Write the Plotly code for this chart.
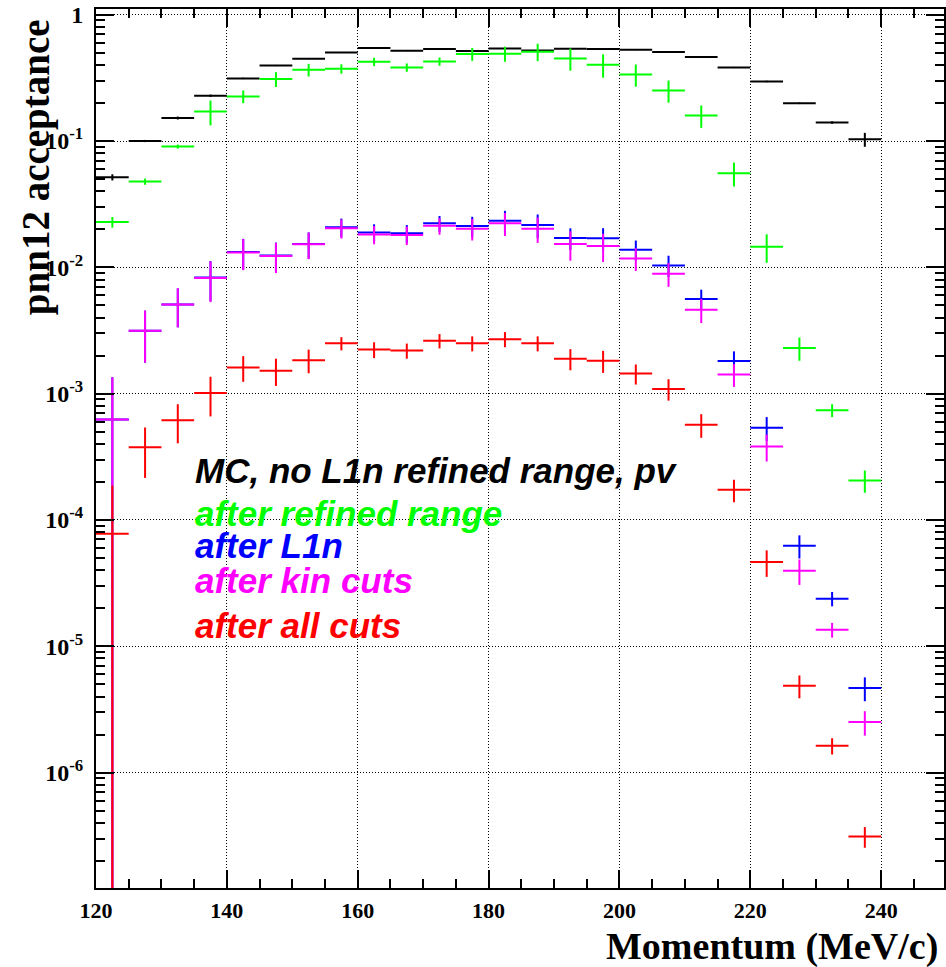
import plotly.graph_objects as go

# bin centres (MeV/c), 5 MeV wide bins
momentum = [122.5, 127.5, 132.5, 137.5, 142.5, 147.5, 152.5, 157.5, 162.5, 167.5,
            172.5, 177.5, 182.5, 187.5, 192.5, 197.5, 202.5, 207.5, 212.5, 217.5,
            222.5, 227.5, 232.5, 237.5]
half_bin = [2.5] * len(momentum)

mc_nocut = [0.0516, 0.100, 0.152, 0.228, 0.313, 0.396, 0.448, 0.502, 0.544, 0.518,
            0.534, 0.515, 0.541, 0.521, 0.537, 0.534, 0.528, 0.506, 0.462, 0.382,
            0.296, 0.199, 0.140, 0.103]
mc_nocut_err = [0.0029, 0.002, 0.004, 0.005, 0.004, 0.004, 0.004, 0.004, 0.004, 0.004,
                0.004, 0.004, 0.004, 0.004, 0.004, 0.004, 0.004, 0.004, 0.004, 0.004,
                0.004, 0.003, 0.003, 0.013]

refined = [0.0228, 0.0477, 0.0903, 0.171, 0.225, 0.309, 0.366, 0.373, 0.424, 0.382,
           0.426, 0.488, 0.491, 0.509, 0.450, 0.401, 0.336, 0.251, 0.159, 0.0555,
           0.01455, 0.0023, 0.000738, 0.000205]
refined_err = [0.0022, 0.0027, 0.0033, 0.038, 0.026, 0.042, 0.042, 0.032, 0.032, 0.029,
               0.032, 0.057, 0.067, 0.080, 0.090, 0.084, 0.067, 0.050, 0.032, 0.0119,
               0.0037, 0.00048, 0.000086, 0.000041]

l1n = [0.000625, 0.00315, 0.00508, 0.0083, 0.0132, 0.0124, 0.0153, 0.0208, 0.0189, 0.0186,
       0.0223, 0.0212, 0.0234, 0.0216, 0.01705, 0.0170, 0.01378, 0.01035, 0.00561, 0.00181,
       0.000537, 6.25e-5, 2.38e-5, 4.67e-6]
l1n_err = [0.00072, 0.00139, 0.00173, 0.0029, 0.0036, 0.0033, 0.0036, 0.0035, 0.0030, 0.0030,
           0.0032, 0.0039, 0.0046, 0.0046, 0.0033, 0.0034, 0.0025, 0.0020, 0.00104, 0.00035,
           0.000115, 1.3e-5, 3.1e-6, 1.0e-6]

kin = [0.000625, 0.00315, 0.00508, 0.00822, 0.0131, 0.0123, 0.0152, 0.0204, 0.0182, 0.0180,
       0.0213, 0.0202, 0.0223, 0.0202, 0.01528, 0.01472, 0.01175, 0.0089, 0.00462, 0.00142,
       0.000382, 3.96e-5, 1.35e-5, 2.51e-6]
kin_err = [0.00072, 0.00139, 0.00173, 0.00292, 0.0036, 0.0033, 0.0036, 0.0035, 0.0030, 0.0030,
           0.0032, 0.0039, 0.0046, 0.0046, 0.0040, 0.0037, 0.0024, 0.0019, 0.0010, 0.00029,
           9.2e-5, 9.0e-6, 1.8e-6, 5.5e-7]

allcuts = [7.76e-5, 0.000377, 0.000614, 0.00101, 0.00161, 0.00152, 0.00184, 0.00250, 0.00223, 0.00219,
           0.00262, 0.00250, 0.00270, 0.00250, 0.00189, 0.00182, 0.00144, 0.00109, 0.000567, 0.000173,
           4.64e-5, 4.87e-6, 1.63e-6, 3.12e-7]
allcuts_err = [0.00011, 0.000162, 0.00021, 0.00035, 0.00037, 0.00037, 0.00039, 0.00030, 0.00032, 0.00030,
               0.00034, 0.00034, 0.00037, 0.00034, 0.00036, 0.00036, 0.00026, 0.00021, 0.00012, 3.5e-5,
               1.1e-5, 1.0e-6, 2.4e-7, 5.8e-8]

series = [
    ("MC, no L1n refined range, pv", mc_nocut, mc_nocut_err, "#000000"),
    ("after refined range", refined, refined_err, "#00ff00"),
    ("after L1n", l1n, l1n_err, "#0000ff"),
    ("after kin cuts", kin, kin_err, "#ff00ff"),
    ("after all cuts", allcuts, allcuts_err, "#ff0000"),
]
label_baselines = [481.7, 525, 556.7, 591.7, 636.7]  # pixel rows of legend text

W, H = 946, 967
L, R, T, B = 96, 0, 9, 79
PW, PH = W - L - R, H - T - B

fig = go.Figure()
for name, vals, errs, col in series:
    fig.add_trace(go.Scatter(
        x=momentum, y=vals, mode="markers", name=name,
        marker=dict(size=2, color=col, opacity=0),
        error_x=dict(type="data", array=half_bin, symmetric=True, color=col, thickness=2, width=0),
        error_y=dict(type="data", array=errs, symmetric=True, color=col, thickness=2, width=0),
        showlegend=False, hoverinfo="skip",
    ))

# legend-like texts
for (name, vals, errs, col), base in zip(series, label_baselines):
    fs = 35
    cy = base - 0.33 * fs
    fig.add_annotation(
        x=(194 - L) / PW, y=(H - B - cy) / PH, xref="paper", yref="paper",
        xanchor="left", yanchor="middle", showarrow=False,
        text=f"<b><i>{name}</i></b>", borderpad=0,
        font=dict(family="Liberation Sans", size=fs, color=col),
    )

# axis titles
fig.add_annotation(
    x=(941 - L) / PW, y=(H - B - 946) / PH, xref="paper", yref="paper",
    xanchor="right", yanchor="middle", showarrow=False,
    text="<b>Momentum (MeV/c)</b>", borderpad=0,
    font=dict(family="Liberation Serif", size=38, color="black"),
)
fig.add_annotation(
    x=(36 - L) / PW, y=(H - B - 18) / PH, xref="paper", yref="paper",
    xanchor="center", yanchor="top", showarrow=False, textangle=-90,
    text="<b>pnn12 acceptance</b>", borderpad=0,
    font=dict(family="Liberation Serif", size=39, color="black"),
)

yt_vals = [1e-6, 1e-5, 1e-4, 1e-3, 1e-2, 1e-1, 1]
yt_text = ["10<sup>-6</sup>", "10<sup>-5</sup>", "10<sup>-4</sup>", "10<sup>-3</sup>",
           "10<sup>-2</sup>", "10<sup>-1</sup>", "1"]
y_minor = [m * 10.0 ** e for e in range(-7, 0) for m in range(2, 10)]
xt_vals = [120, 140, 160, 180, 200, 220, 240]

xtickfont = dict(family="Liberation Serif", size=22, color="black", weight="bold")
ytickfont = dict(family="Liberation Serif", size=24, color="black", weight="bold")
griddash = "1px,2px"

fig.update_layout(
    width=W, height=H, autosize=False,
    margin=dict(l=L, r=R, t=T, b=B),
    paper_bgcolor="white", plot_bgcolor="white",
    xaxis=dict(
        range=[120, 249.6], tickmode="array", tickvals=xt_vals,
        ticks="inside", ticklen=18, tickwidth=1.5, tickcolor="black",
        showline=True, linewidth=2, linecolor="black", mirror="ticks",
        showgrid=True, gridcolor="black", gridwidth=1, griddash=griddash,
        zeroline=False, tickfont=xtickfont, ticklabelstandoff=2,
        minor=dict(dtick=5, tick0=120, ticks="inside", ticklen=9, tickwidth=1.5,
                   tickcolor="black", showgrid=False),
    ),
    yaxis=dict(
        type="log", range=[-6.914, 0.045], tickmode="array",
        tickvals=yt_vals, ticktext=yt_text,
        ticks="inside", ticklen=18, tickwidth=1.5, tickcolor="black",
        showline=True, linewidth=2, linecolor="black", mirror="ticks",
        showgrid=True, gridcolor="black", gridwidth=1, griddash=griddash,
        zeroline=False, tickfont=ytickfont, ticklabelstandoff=6,
        minor=dict(tickmode="array", tickvals=y_minor, ticks="inside", ticklen=9,
                   tickwidth=1.5, tickcolor="black", showgrid=False),
    ),
)

fig.write_html("out.html")
